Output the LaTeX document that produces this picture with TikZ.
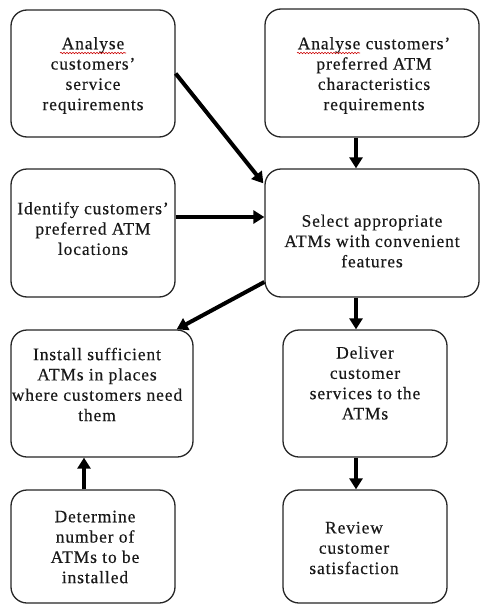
\documentclass[tikz,border=0pt]{standalone}
\usepackage{fontspec}
\setmainfont{Liberation Serif}[LetterSpace=5.0, FakeBold=0.35]
\usetikzlibrary{calc,arrows.meta,decorations.pathmorphing}

\tikzset{
  box/.style={draw=black!85, line width=1.3pt, rounded corners=16pt, fill=white, inner sep=0pt},
  label/.style={align=center, inner sep=0pt, text=black!90,
                font=\fontsize{17.5}{20.3}\selectfont},
  arr/.style={line width=4pt, draw=black, -{Triangle[width=13pt,length=11pt]}},
  squiggle/.style={draw=red!80!black, line width=0.6pt,
                   decorate, decoration={snake, segment length=3pt, amplitude=0.7pt}}
}

\begin{document}
\begin{tikzpicture}[x=1pt, y=-1pt]
  \useasboundingbox (0,0) rectangle (481,605);

  % boxes
  \node[box, minimum width=164pt, minimum height=127pt] (A) at (93,73.5) {};
  \node[box, minimum width=214pt, minimum height=128pt] (B) at (372,73) {};
  \node[box, minimum width=164pt, minimum height=128pt] (C) at (93,233) {};
  \node[box, minimum width=214pt, minimum height=128pt] (D) at (372,233) {};
  \node[box, minimum width=182pt, minimum height=127pt] (E) at (102,393.5) {};
  \node[box, minimum width=164pt, minimum height=127pt] (F) at (365,393.5) {};
  \node[box, minimum width=164pt, minimum height=113pt] (G) at (93,546.5) {};
  \node[box, minimum width=164pt, minimum height=113pt] (H) at (365,546.5) {};

  % box texts
  \node[label] (At) at (93,75.5) {Analyse\\customers’\\service\\requirements};
  \node[label] (Bt) at (374,75.5) {Analyse customers’\\preferred ATM\\characteristics\\requirements};
  \node[label] (Ct) at (93,228.5) {Identify customers’\\preferred ATM\\locations};
  \node[label] (Dt) at (372,241) {Select appropriate\\ATMs with convenient\\features};
  \node[label] (Et) at (97,384.5) {Install sufficient\\ATMs in places\\where customers need\\them};
  \node[label] (Ft) at (365,383) {Deliver\\customer\\services to the\\ATMs};
  \node[label] (Gt) at (95,547) {Determine\\number of\\ATMs to be\\installed};
  \node[label] (Ht) at (354,548) {Review\\customer\\satisfaction};

  % spell-check underlines under "Analyse"
  \draw[squiggle] (60,53) -- (126,53);
  \draw[squiggle] (297,53) -- (360,53);

  % columns of the vertical connectors
  \coordinate (colR) at (356,0);
  \coordinate (colL) at (84,0);

  % connectors
  \draw[arr] (A.east) -- ($(D.north west)+(-1,15)$);
  \draw[arr] (B.south -| colR) -- (D.north -| colR);
  \draw[arr] ($(C.east)+(0,-16)$) -- ($(D.west)+(0,-16)$);
  \draw[arr] ($(D.west)+(0,49)$) -- ($(E.north east)+(-17,0)$);
  \draw[arr] (D.south -| colR) -- (F.north -| colR);
  \draw[arr] (F.south -| colR) -- (H.north -| colR);
  \draw[arr] (G.north -| colL) -- (E.south -| colL);
\end{tikzpicture}
\end{document}
